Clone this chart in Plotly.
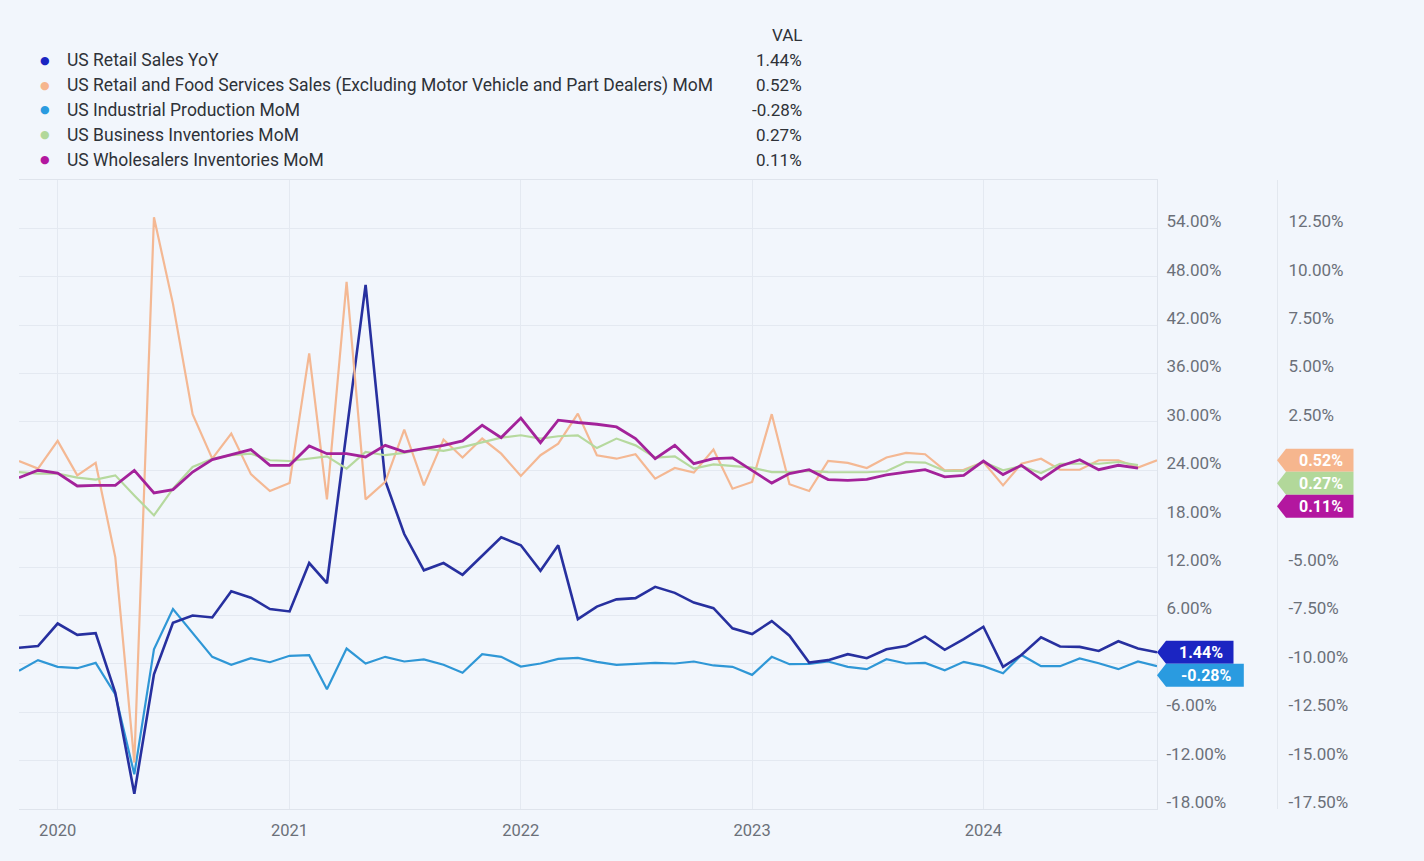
import pandas as pd
import plotly.graph_objects as go

# ---------------- data ----------------
months = pd.date_range("2019-11-01", periods=60, freq="MS")

series_names = [
    "US Retail Sales YoY",
    "US Retail and Food Services Sales (Excluding Motor Vehicle and Part Dealers) MoM",
    "US Industrial Production MoM",
    "US Business Inventories MoM",
    "US Wholesalers Inventories MoM",
]

retail_yoy = [2.0, 2.2, 5.0, 3.6, 3.8, -3.6, -16.1, -1.3, 5.1, 6.0,
              5.75, 9.0, 8.2, 6.8, 6.5, 12.5, 10.0, 28.5, 47.0, 22.7,
              16.1, 11.6, 12.5, 11.05, 13.4, 15.7, 14.7, 11.55, 14.7, 5.55,
              7.1, 8.0, 8.15, 9.55, 8.8, 7.6, 6.9, 4.4, 3.7, 5.3,
              3.5, 0.16, 0.46, 1.2, 0.7, 1.8, 2.2, 3.4, 1.74, 3.07,
              4.6, -0.37, 1.1, 3.3, 2.15, 2.1, 1.6, 2.8, 1.9, 1.44]

retail_food_ex_auto = [0.48, 0.09, 1.52, -0.26, 0.38, -4.5, -15.1, 13.07, 8.6, 2.9,
                       0.6, 1.9, -0.2, -1.07, -0.66, 6.04, -1.5, 9.74, -1.5, -0.6,
                       2.1, -0.78, 1.59, 0.66, 1.64, 0.86, -0.29, 0.78, 1.38, 2.93,
                       0.78, 0.6, 0.83, -0.43, 0.12, -0.12, 1.07, -0.95, -0.6, 2.9,
                       -0.72, -1.07, 0.48, 0.38, 0.12, 0.66, 0.9, 0.83, 0.0, 0.03,
                       0.43, -0.78, 0.34, 0.6, 0.03, 0.03, 0.52, 0.52, 0.14, 0.52]

industrial_prod = [-0.87, 0.46, -0.37, -0.54, 0.12, -3.8, -13.7, 1.8, 6.8, 3.8,
                   0.87, -0.12, 0.7, 0.2, 1.0, 1.08, -3.15, 1.9, 0.04, 0.87,
                   0.29, 0.54, -0.12, -1.1, 1.2, 0.87, -0.33, 0.04, 0.62, 0.75,
                   0.25, -0.12, -0.04, 0.12, 0.04, 0.29, -0.2, -0.37, -1.37, 0.87,
                   -0.04, 0.0, 0.29, -0.37, -0.66, 0.58, 0.04, 0.12, -0.79, 0.25,
                   -0.29, -1.16, 1.1, -0.29, -0.29, 0.66, 0.08, -0.66, 0.29, -0.28]

business_inv = [-0.09, -0.17, -0.17, -0.38, -0.48, -0.26, -1.3, -2.33, -0.95, 0.17,
                0.6, 0.78, 0.86, 0.52, 0.48, 0.6, 0.72, 0.09, 0.95, 0.78,
                0.9, 1.12, 1.0, 1.2, 1.46, 1.69, 1.81, 1.64, 1.76, 1.81,
                1.15, 1.64, 1.29, 0.66, 0.72, 0.09, 0.31, 0.21, 0.14, -0.09,
                -0.09, -0.03, -0.09, -0.1, -0.1, -0.05, 0.43, 0.4, -0.03, -0.03,
                0.43, 0.0, 0.21, -0.14, 0.34, 0.34, 0.34, 0.43, 0.27]

wholesale_inv = [-0.38, 0.0, -0.14, -0.81, -0.78, -0.78, 0.0, -1.17, -1.0, -0.09,
                 0.55, 0.81, 1.07, 0.26, 0.26, 1.26, 0.86, 0.86, 0.69, 1.29,
                 0.95, 1.12, 1.29, 1.52, 2.33, 1.69, 2.7, 1.43, 2.59, 2.47,
                 2.38, 2.24, 1.64, 0.6, 1.29, 0.34, 0.6, 0.64, 0.0, -0.66,
                 -0.17, 0.03, -0.48, -0.52, -0.47, -0.24, -0.09, 0.03, -0.34, -0.26,
                 0.48, -0.22, 0.26, -0.47, 0.21, 0.55, 0.03, 0.26, 0.11]

year_ticks = ["2020", "2021", "2022", "2023", "2024"]
left_ticks = [-18, -12, -6, 0, 6, 12, 18, 24, 30, 36, 42, 48, 54]
right_ticks = [-17.5, -15, -12.5, -10, -7.5, -5, -2.5, 0, 2.5, 5, 7.5, 10, 12.5]

# ---------------- styles ----------------
line_colors = ["#27309f", "#f4b893", "#2f97d6", "#b6d99e", "#a3229a"]
badge_colors = ["#1b25c2", "#f6b68e", "#2a9be0", "#b2d89a", "#b3179f"]
line_widths = [2.6, 2.2, 2.2, 2.2, 2.8]
axis_of = ["y", "y2", "y", "y2", "y2"]
all_series = [retail_yoy, retail_food_ex_auto, industrial_prod, business_inv, wholesale_inv]

BG = "#f2f6fc"
GRID = "#e4e9f1"
FONT = "Roboto, Arial, sans-serif"
TICKC = "#6b7079"
TXT = "#2e3238"

W, H = 1424, 861
ML, MR, MT, MB = 19, 44, 180, 52
PW = W - ML - MR
PH = H - MT - MB
x_dom_end = 1138 / PW
y2_pos = (1277 - ML) / PW
y_range = [-18, 60]
y2_range = [-17.5, 15]
LABEL_SHIFT = 7

# ---------------- value badges (stacked so they do not overlap) ----------------
BH = 23
TIP = 9
ppu = {"y": PH / (y_range[1] - y_range[0]), "y2": PH / (y2_range[1] - y2_range[0])}
tip_x = {"y": x_dom_end, "y2": y2_pos}
badges = []  # (series index, axis, value, downward shift px)
for ax in ["y", "y2"]:
    idx = [k for k in range(5) if axis_of[k] == ax]
    idx.sort(key=lambda k: -all_series[k][-1])
    prev = None
    for k in idx:
        v = all_series[k][-1]
        natural = -v * ppu[ax]
        c = natural
        if prev is not None and c < prev + BH:
            c = prev + BH
        prev = c
        badges.append((k, ax, v, c - natural))


def tick_texts(ticks, ax):
    # labels hidden where a value badge sits on top of them
    out = []
    for t in ticks:
        lab_c = -t * ppu[ax] - LABEL_SHIFT
        hidden = False
        for k, bax, v, s in badges:
            if bax != ax:
                continue
            bc = -v * ppu[ax] + s
            if abs(lab_c - bc) < BH / 2 + 7:
                hidden = True
        out.append("" if hidden else f"{t:.2f}%")
    return out


fig = go.Figure()
draw_order = [1, 3, 2, 0, 4]
for k in draw_order:
    vals = all_series[k]
    fig.add_trace(go.Scatter(
        x=months[:len(vals)], y=vals, name=series_names[k], mode="lines",
        line=dict(color=line_colors[k], width=line_widths[k]),
        yaxis=axis_of[k], showlegend=False,
    ))

fig.update_layout(
    width=W, height=H,
    margin=dict(l=ML, r=MR, t=MT, b=MB),
    paper_bgcolor=BG, plot_bgcolor=BG,
    font=dict(family=FONT, color=TICKC),
    xaxis=dict(
        domain=[0, x_dom_end], type="date",
        range=[months[0], months[-1]],
        tickvals=[f"{y}-01-01" for y in year_ticks], ticktext=year_ticks,
        showgrid=True, gridcolor=GRID, gridwidth=1,
        showline=True, linecolor="#dfe4ec", mirror=True,
        ticks="", tickfont=dict(size=16.5, color=TICKC), ticklabelstandoff=6,
        zeroline=False,
    ),
    yaxis=dict(
        side="right", anchor="x", range=y_range,
        tickvals=left_ticks, ticktext=tick_texts(left_ticks, "y"),
        showgrid=True, gridcolor=GRID, gridwidth=1, zeroline=False,
        showline=True, linecolor="#dfe4ec",
        ticks="", tickfont=dict(size=17, color=TICKC),
        ticklabelstandoff=5, ticklabelshift=-LABEL_SHIFT,
    ),
    yaxis2=dict(
        side="right", overlaying="y", anchor="free", position=y2_pos,
        range=y2_range,
        tickvals=right_ticks, ticktext=tick_texts(right_ticks, "y2"),
        showgrid=False, zeroline=False,
        showline=True, linecolor="#e3e8ef",
        ticks="", tickfont=dict(size=17, color=TICKC),
        ticklabelstandoff=7, ticklabelshift=-LABEL_SHIFT,
    ),
)

for k, ax, v, s in badges:
    txt = f"{v:.2f}%"
    bw = TIP + 16 + len(txt) * 10.3
    yc = -s
    path = (f"M0,{yc} L{TIP},{yc + BH/2} L{bw},{yc + BH/2} "
            f"L{bw},{yc - BH/2} L{TIP},{yc - BH/2} Z")
    fig.add_shape(type="path", path=path, xref="paper", yref=ax,
                  xsizemode="pixel", ysizemode="pixel",
                  xanchor=tip_x[ax], yanchor=v,
                  fillcolor=badge_colors[k], line=dict(width=0), layer="above")
    fig.add_annotation(x=tip_x[ax], y=v, xref="paper", yref=ax,
                       xshift=(TIP + bw) / 2 + 1, yshift=-s,
                       text=f"<b>{txt}</b>", showarrow=False,
                       xanchor="center", yanchor="middle",
                       font=dict(size=16, color="white", family=FONT))

# ---------------- legend table ----------------
def px_x(px):
    return (px - ML) / PW


def px_y(py):
    return (MT + PH - py) / PH


fig.add_annotation(x=px_x(804), y=px_y(35), xref="paper", yref="paper",
                   text="VAL", showarrow=False, xanchor="right", yanchor="middle",
                   font=dict(size=17, color=TXT, family=FONT))
for r, k in enumerate(range(5)):
    yy = px_y(60 + 25 * r)
    fig.add_annotation(x=px_x(45), y=yy, xref="paper", yref="paper",
                       text="●", showarrow=False, xanchor="center", yanchor="middle",
                       font=dict(size=11, color=badge_colors[k], family="DejaVu Sans"))
    fig.add_annotation(x=px_x(65), y=yy, xref="paper", yref="paper",
                       text=series_names[k], showarrow=False, xanchor="left", yanchor="middle",
                       font=dict(size=17.5, color=TXT, family=FONT))
    fig.add_annotation(x=px_x(804), y=yy, xref="paper", yref="paper",
                       text=f"{all_series[k][-1]:.2f}%", showarrow=False,
                       xanchor="right", yanchor="middle",
                       font=dict(size=17, color=TXT, family=FONT))

fig.write_html("out.html", config={"displayModeBar": False},
               post_script="document.body.style.margin='0';document.body.style.overflow='hidden';")
